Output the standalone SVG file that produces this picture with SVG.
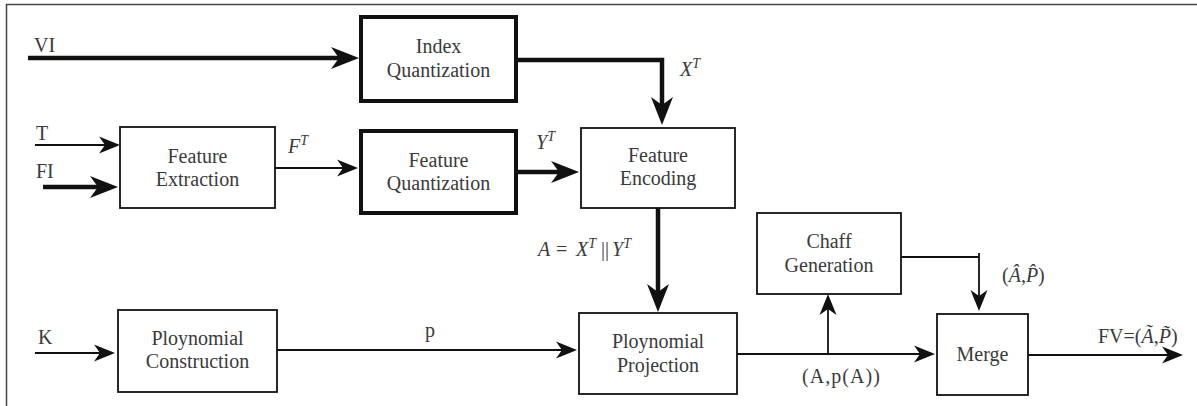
<svg xmlns="http://www.w3.org/2000/svg" width="1197" height="406" viewBox="0 0 1197 406">
<style>
.box{fill:#fff;stroke:#111;stroke-width:1.8}
.tbox{fill:#fff;stroke:#111;stroke-width:4}
.t{font-family:'Liberation Serif','Times New Roman','DejaVu Serif',serif;font-size:20px;fill:#3a3a3a}
.c{text-anchor:middle}
.i{font-style:italic}
.sup{font-size:14px;font-style:italic}
.thin{fill:none;stroke:#111;stroke-width:1.8}
.thick{fill:none;stroke:#111;stroke-width:4.5}
.frame{fill:none;stroke:#444;stroke-width:1.5}
</style>
<defs>
<marker id="ah" markerUnits="userSpaceOnUse" markerWidth="24" markerHeight="20" refX="6" refY="9" orient="auto" viewBox="0 0 24 20">
<path d="M21,9 L0,0.5 L6,9 L0,17.5 Z" fill="#111"/>
</marker>
<marker id="ahb" markerUnits="userSpaceOnUse" markerWidth="30" markerHeight="24" refX="8" refY="11.5" orient="auto" viewBox="0 0 30 24">
<path d="M28,11.5 L0,0.5 L8,11.5 L0,22.5 Z" fill="#111"/>
</marker>
</defs>
<path class="frame" d="M6.5,410 V4.5 H1200"/>
<g id="connectors">
<path class="thick" d="M28,58 H339" marker-end="url(#ahb)"/>
<path class="thick" d="M517,60 H662 V105" marker-end="url(#ahb)"/>
<path class="thin" d="M35,145 H105" marker-end="url(#ah)"/>
<path class="thick" d="M43,187 H98" marker-end="url(#ahb)"/>
<path class="thin" d="M275,168 H343" marker-end="url(#ah)"/>
<path class="thick" d="M517,172 H559" marker-end="url(#ahb)"/>
<path class="thick" d="M658,208 V292" marker-end="url(#ahb)"/>
<path class="thin" d="M35,353 H100" marker-end="url(#ah)"/>
<path class="thin" d="M277,350 H562" marker-end="url(#ah)"/>
<path class="thin" d="M737,354 H920" marker-end="url(#ah)"/>
<path class="thin" d="M828,354 V309" marker-end="url(#ah)"/>
<path class="thin" d="M901,257 H979"/>
<path class="thin" d="M979,253 V296" marker-end="url(#ah)"/>
<path class="thin" d="M1028,355 H1168" marker-end="url(#ah)"/>
<text class="t" x="34" y="52">VI</text>
<text class="t" x="36" y="140">T</text>
<text class="t" x="36" y="178">FI</text>
<text class="t" x="38" y="344">K</text>
<text class="t" x="288" y="153"><tspan class="i">F</tspan><tspan class="sup" dy="-8">T</tspan></text>
<text class="t" x="680" y="76"><tspan class="i">X</tspan><tspan class="sup" dy="-8">T</tspan></text>
<text class="t" x="536" y="149"><tspan class="i">Y</tspan><tspan class="sup" dy="-8">T</tspan></text>
<text class="t" x="538" y="256"><tspan class="i">A</tspan><tspan x="556">=</tspan><tspan class="i" x="576">X</tspan><tspan class="sup" dy="-8">T</tspan><tspan x="601" dy="8">||</tspan><tspan class="i" x="612">Y</tspan><tspan class="sup" dy="-8">T</tspan></text>
<text class="t" x="425" y="337">p</text>
<text class="t" x="802" y="383" textLength="78">(A,p(A))</text>
<text class="t" x="1002" y="282">(<tspan class="i">Â</tspan>,<tspan class="i">P̂</tspan>)</text>
<text class="t" x="1098" y="343">FV=(<tspan class="i">Ã</tspan>,<tspan class="i">P̃</tspan>)</text>
</g>
<g id="index-quantization">
<rect class="tbox" x="361" y="17" width="155" height="84"/>
<text class="t c" x="438.5" y="53">Index</text>
<text class="t c" x="438.5" y="77">Quantization</text>
</g>
<g id="feature-extraction">
<rect class="box" x="120" y="127" width="155" height="81"/>
<text class="t c" x="197.5" y="163">Feature</text>
<text class="t c" x="197.5" y="186">Extraction</text>
</g>
<g id="feature-quantization">
<rect class="tbox" x="361" y="131" width="155" height="82"/>
<text class="t c" x="438.5" y="167">Feature</text>
<text class="t c" x="438.5" y="190">Quantization</text>
</g>
<g id="feature-encoding">
<rect class="box" x="581" y="128" width="154" height="80"/>
<text class="t c" x="658" y="162">Feature</text>
<text class="t c" x="658" y="185">Encoding</text>
</g>
<g id="polynomial-construction">
<rect class="box" x="118" y="310" width="159" height="82"/>
<text class="t c" x="197.5" y="345">Ploynomial</text>
<text class="t c" x="197.5" y="368">Construction</text>
</g>
<g id="polynomial-projection">
<rect class="box" x="579" y="313" width="158" height="81"/>
<text class="t c" x="658" y="348">Ploynomial</text>
<text class="t c" x="658" y="372">Projection</text>
</g>
<g id="chaff-generation">
<rect class="box" x="757" y="213" width="144" height="81"/>
<text class="t c" x="829" y="248">Chaff</text>
<text class="t c" x="829" y="272">Generation</text>
</g>
<g id="merge">
<rect class="box" x="937" y="314" width="91" height="81"/>
<text class="t c" x="982.5" y="361">Merge</text>
</g>
</svg>
